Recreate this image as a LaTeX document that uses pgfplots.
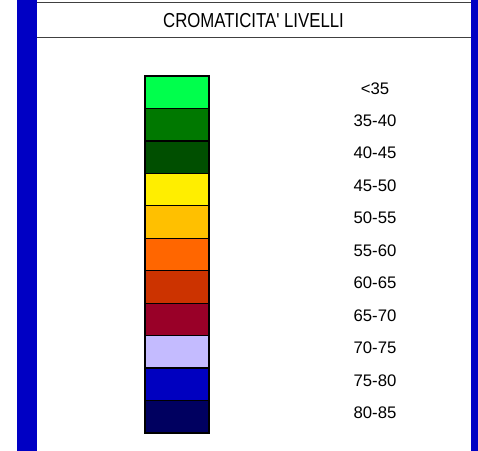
\documentclass[border=0pt]{standalone}
\usepackage{fontspec}
\setmainfont{Liberation Sans}
\usepackage{pgfplots}
\pgfplotsset{compat=1.18}

\definecolor{frameblue}{HTML}{0000C4}
\definecolor{lv1}{HTML}{00FF4C}
\definecolor{lv2}{HTML}{007800}
\definecolor{lv3}{HTML}{004F00}
\definecolor{lv4}{HTML}{FFEE00}
\definecolor{lv5}{HTML}{FFC000}
\definecolor{lv6}{HTML}{FF6600}
\definecolor{lv7}{HTML}{CC3300}
\definecolor{lv8}{HTML}{990028}
\definecolor{lv9}{HTML}{C4BBFF}
\definecolor{lv10}{HTML}{0000C0}
\definecolor{lv11}{HTML}{000060}

\tikzset{
    box/.style={draw=black, line width=1.3bp},
    lab/.style={font=\fontsize{16.8}{18}\selectfont, anchor=base}
}

\begin{document}
\begin{tikzpicture}
\useasboundingbox (0,0) rectangle (478bp,451bp);
\begin{axis}[
    at={(0,0)}, anchor=south west,
    scale only axis, width=478bp, height=451bp,
    xmin=0, xmax=478, ymin=0, ymax=451,
    y dir=reverse, hide axis, clip=false
]
% frame
\fill[frameblue] (axis cs:17,0) rectangle (axis cs:37,451);
\fill[frameblue] (axis cs:471,0) rectangle (axis cs:478,451);
\draw[black!75, line width=1.3bp] (axis cs:37,2.7) -- (axis cs:471,2.7);
\draw[black!75, line width=1.3bp] (axis cs:37,37.7) -- (axis cs:471,37.7);
\node[font=\fontsize{20.3}{22}\selectfont, xscale=0.83, anchor=base] at (axis cs:253.5,27.3) {CROMATICITA\textquotesingle{} LIVELLI};

% level boxes
\addplot[box, fill=lv1]  coordinates {(145,76) (209,76) (209,108.45) (145,108.45)} -- cycle;
\addplot[box, fill=lv2]  coordinates {(145,108.45) (209,108.45) (209,140.9) (145,140.9)} -- cycle;
\addplot[box, fill=lv3]  coordinates {(145,140.9) (209,140.9) (209,173.35) (145,173.35)} -- cycle;
\addplot[box, fill=lv4]  coordinates {(145,173.35) (209,173.35) (209,205.8) (145,205.8)} -- cycle;
\addplot[box, fill=lv5]  coordinates {(145,205.8) (209,205.8) (209,238.25) (145,238.25)} -- cycle;
\addplot[box, fill=lv6]  coordinates {(145,238.25) (209,238.25) (209,270.7) (145,270.7)} -- cycle;
\addplot[box, fill=lv7]  coordinates {(145,270.7) (209,270.7) (209,303.15) (145,303.15)} -- cycle;
\addplot[box, fill=lv8]  coordinates {(145,303.15) (209,303.15) (209,335.6) (145,335.6)} -- cycle;
\addplot[box, fill=lv9]  coordinates {(145,335.6) (209,335.6) (209,368.05) (145,368.05)} -- cycle;
\addplot[box, fill=lv10] coordinates {(145,368.05) (209,368.05) (209,400.5) (145,400.5)} -- cycle;
\addplot[box, fill=lv11] coordinates {(145,400.5) (209,400.5) (209,432.95) (145,432.95)} -- cycle;

% labels
\node[lab] at (axis cs:375,94)     {<35};
\node[lab] at (axis cs:375,126.45) {35-40};
\node[lab] at (axis cs:375,158.9)  {40-45};
\node[lab] at (axis cs:375,191.35) {45-50};
\node[lab] at (axis cs:375,223.8)  {50-55};
\node[lab] at (axis cs:375,256.25) {55-60};
\node[lab] at (axis cs:375,288.7)  {60-65};
\node[lab] at (axis cs:375,321.15) {65-70};
\node[lab] at (axis cs:375,353.6)  {70-75};
\node[lab] at (axis cs:375,386.05) {75-80};
\node[lab] at (axis cs:375,418.5)  {80-85};
\end{axis}
\end{tikzpicture}
\end{document}
